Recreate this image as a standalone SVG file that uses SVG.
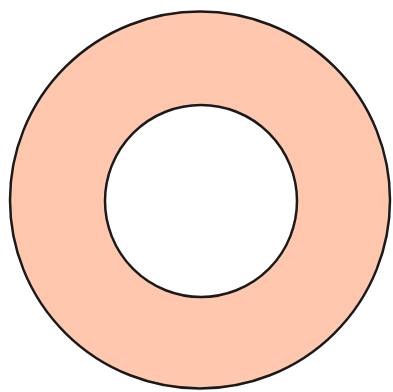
<svg xmlns="http://www.w3.org/2000/svg" width="393" height="392" viewBox="0 0 393 392">
<style>.ring{fill:#FFC8AE;fill-rule:evenodd;stroke:#1a1a1a;stroke-width:2.5}</style>
<rect width="393" height="392" fill="#ffffff"/>
<g id="ring">
<path class="ring" d="M10,200 A190,188.5 0 1,0 390,200 A190,188.5 0 1,0 10,200 Z M105,201 A96,96 0 1,1 297,201 A96,96 0 1,1 105,201 Z"/>
</g>
</svg>
